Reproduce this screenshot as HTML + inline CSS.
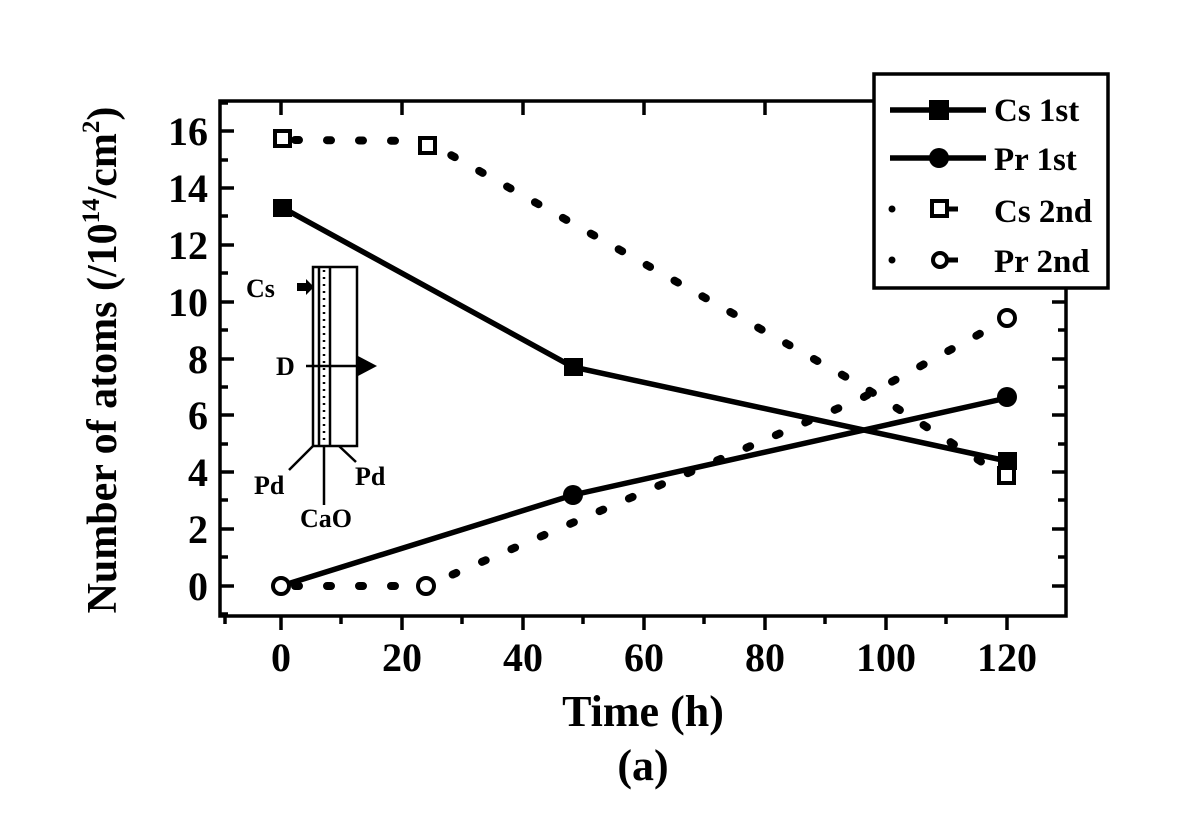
<!DOCTYPE html>
<html><head><meta charset="utf-8"><style>
html,body{margin:0;padding:0;background:#fff;}
svg{display:block;}
text{font-family:"Liberation Serif",serif;fill:#000;font-weight:bold;}
</style></head><body>
<svg width="1187" height="839" viewBox="0 0 1187 839" xmlns="http://www.w3.org/2000/svg">
<rect x="220" y="101" width="846" height="515" fill="none" stroke="#000" stroke-width="3.5"/>
<g stroke="#000" stroke-width="3.5">
<line x1="220" y1="586" x2="234" y2="586"/><line x1="220" y1="529" x2="234" y2="529"/><line x1="220" y1="472" x2="234" y2="472"/><line x1="220" y1="415" x2="234" y2="415"/><line x1="220" y1="359" x2="234" y2="359"/><line x1="220" y1="302" x2="234" y2="302"/><line x1="220" y1="245" x2="234" y2="245"/><line x1="220" y1="188" x2="234" y2="188"/><line x1="220" y1="131" x2="234" y2="131"/>
<line x1="220" y1="614" x2="228" y2="614"/><line x1="220" y1="557" x2="228" y2="557"/><line x1="220" y1="500" x2="228" y2="500"/><line x1="220" y1="444" x2="228" y2="444"/><line x1="220" y1="387" x2="228" y2="387"/><line x1="220" y1="330" x2="228" y2="330"/><line x1="220" y1="273" x2="228" y2="273"/><line x1="220" y1="216" x2="228" y2="216"/><line x1="220" y1="160" x2="228" y2="160"/><line x1="220" y1="103" x2="228" y2="103"/>
<line x1="1066" y1="586" x2="1052" y2="586"/><line x1="1066" y1="529" x2="1052" y2="529"/><line x1="1066" y1="472" x2="1052" y2="472"/><line x1="1066" y1="415" x2="1052" y2="415"/><line x1="1066" y1="359" x2="1052" y2="359"/><line x1="1066" y1="302" x2="1052" y2="302"/>
<line x1="1066" y1="557" x2="1058" y2="557"/><line x1="1066" y1="500" x2="1058" y2="500"/><line x1="1066" y1="444" x2="1058" y2="444"/><line x1="1066" y1="387" x2="1058" y2="387"/><line x1="1066" y1="330" x2="1058" y2="330"/>
<line x1="281" y1="616" x2="281" y2="630"/><line x1="402" y1="616" x2="402" y2="630"/><line x1="523" y1="616" x2="523" y2="630"/><line x1="644" y1="616" x2="644" y2="630"/><line x1="765" y1="616" x2="765" y2="630"/><line x1="886" y1="616" x2="886" y2="630"/><line x1="1007" y1="616" x2="1007" y2="630"/>
<line x1="341" y1="616" x2="341" y2="624"/><line x1="462" y1="616" x2="462" y2="624"/><line x1="583" y1="616" x2="583" y2="624"/><line x1="704" y1="616" x2="704" y2="624"/><line x1="825" y1="616" x2="825" y2="624"/><line x1="946" y1="616" x2="946" y2="624"/><line x1="225" y1="616" x2="225" y2="624"/>
<line x1="281" y1="101" x2="281" y2="115"/><line x1="402" y1="101" x2="402" y2="115"/><line x1="523" y1="101" x2="523" y2="115"/><line x1="644" y1="101" x2="644" y2="115"/><line x1="765" y1="101" x2="765" y2="115"/>
</g>
<g font-size="40" text-anchor="end">
<text x="208" y="600">0</text><text x="208" y="543">2</text><text x="208" y="486">4</text><text x="208" y="429">6</text><text x="208" y="373">8</text><text x="208" y="316">10</text><text x="208" y="259">12</text><text x="208" y="202">14</text><text x="208" y="145">16</text>
</g>
<g font-size="40" text-anchor="middle">
<text x="281" y="671">0</text><text x="402" y="671">20</text><text x="523" y="671">40</text><text x="644" y="671">60</text><text x="765" y="671">80</text><text x="886" y="671">100</text><text x="1007" y="671">120</text>
<text x="643" y="726" font-size="44" font-weight="normal">Time (h)</text>
<text x="643" y="780" font-size="44" font-weight="normal">(a)</text>
</g>
<text transform="translate(116,360) rotate(-90)" font-size="42" text-anchor="middle" font-weight="normal">Number of atoms (/10<tspan font-size="25" dy="-17">14</tspan><tspan dy="17">/cm</tspan><tspan font-size="25" dy="-17">2</tspan><tspan dy="17">)</tspan></text>
<g fill="none" stroke="#000" stroke-width="8" stroke-linecap="round" stroke-dasharray="4 28">
<polyline points="295,140 426,141 862,386 1007,478"/>
<polyline points="295,586 426,586 862,398 1007,319"/>
</g>
<g fill="none" stroke="#000" stroke-width="5.5">
<polyline points="283,208 573,367 1007,461"/>
<polyline points="281,586 573,495 1007,398"/>
</g>
<rect x="273" y="199" width="19" height="18" fill="#000"/>
<rect x="564" y="358" width="19" height="18" fill="#000"/>
<rect x="998" y="452" width="19" height="18" fill="#000"/>
<circle cx="573" cy="495" r="10" fill="#000"/>
<circle cx="1007" cy="397" r="10" fill="#000"/>
<g fill="#fff" stroke="#000" stroke-width="4">
<rect x="275" y="131" width="15" height="15"/>
<rect x="420" y="138" width="15" height="15"/>
<rect x="999" y="468" width="15" height="15"/>
<circle cx="281" cy="586" r="8"/>
<circle cx="426" cy="586" r="8"/>
<circle cx="1007" cy="318" r="8"/>
</g>
<g fill="none" stroke="#000" stroke-width="2.5">
<rect x="313" y="267" width="44" height="179"/>
<line x1="319" y1="267" x2="319" y2="446"/>
<line x1="330" y1="267" x2="330" y2="446"/>
<line x1="324" y1="270" x2="324" y2="444" stroke-dasharray="2 5"/>
<line x1="306" y1="366" x2="360" y2="366"/>
<line x1="313" y1="446" x2="289" y2="470"/>
<line x1="324" y1="446" x2="324" y2="505"/>
<line x1="339" y1="446" x2="356" y2="462"/>
</g>
<polygon points="358,356 377,366 358,376" fill="#000"/>
<rect x="297" y="283" width="10" height="8" fill="#000"/>
<polygon points="306,279 314,287 306,295" fill="#000"/>
<g font-size="26">
<text x="246" y="297">Cs</text>
<text x="276" y="375">D</text>
<text x="254" y="494">Pd</text>
<text x="300" y="527">CaO</text>
<text x="355" y="485">Pd</text>
</g>
<rect x="874" y="74" width="234" height="214" fill="#fff" stroke="#000" stroke-width="3.5"/>
<g stroke="#000" stroke-width="5.5">
<line x1="890" y1="110" x2="986" y2="110"/>
<line x1="890" y1="158" x2="986" y2="158"/>
</g>
<rect x="929" y="100" width="20" height="20" fill="#000"/>
<circle cx="939" cy="158" r="10" fill="#000"/>
<circle cx="892" cy="209" r="3.5" fill="#000"/><line x1="948" y1="209" x2="958" y2="209" stroke="#000" stroke-width="5"/>
<rect x="932" y="201" width="15" height="15" fill="#fff" stroke="#000" stroke-width="4"/>
<circle cx="892" cy="260" r="3.5" fill="#000"/><line x1="948" y1="260" x2="958" y2="260" stroke="#000" stroke-width="5"/>
<circle cx="940" cy="260" r="7" fill="#fff" stroke="#000" stroke-width="4"/>
<g font-size="33">
<text x="994" y="121">Cs 1st</text>
<text x="994" y="170">Pr 1st</text>
<text x="994" y="222">Cs 2nd</text>
<text x="994" y="272">Pr 2nd</text>
</g>
</svg>
</body></html>
